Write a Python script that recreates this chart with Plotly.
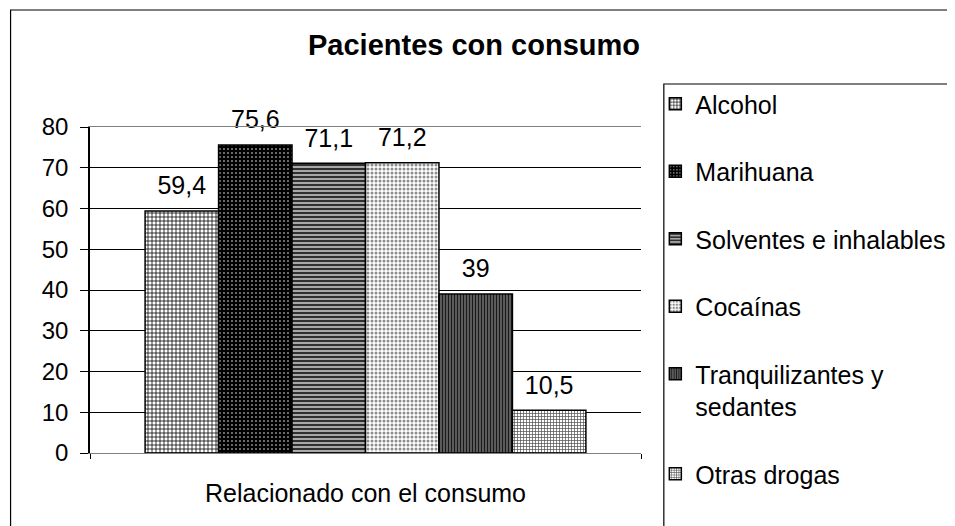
import plotly.graph_objects as go

category = ["Relacionado con el consumo"]
series_names = ["Alcohol", "Marihuana", "Solventes e inhalables", "Cocaínas",
                "Tranquilizantes y<br>sedantes", "Otras drogas"]
series_values = [59.4, 75.6, 71.1, 71.2, 39, 10.5]
y_ticks = [0, 10, 20, 30, 40, 50, 60, 70, 80]

# pattern per series: (shape, fg, bg, size, solidity)
patterns = [
    ("+", "#000000", "#ffffff", 4, 0.35),
    (".", "#ffffff", "#000000", 4, 0.12),
    ("-", "#303030", "#a8a8a8", 4, 0.5),
    (".", "#8c8c8c", "#ffffff", 4, 0.45),
    ("|", "#1a1a1a", "#707070", 3, 0.5),
    ("+", "#4a4a4a", "#ffffff", 3, 0.4),
]

FONT = "Arial, Liberation Sans, sans-serif"

fig = go.Figure()
for name, val, (shape, fg, bg, size, sol) in zip(series_names, series_values, patterns):
    label = str(val).replace(".", ",")
    fig.add_trace(go.Bar(
        x=category, y=[val], name=name, legendgroup=name,
        # small second line lifts the label a little above the bar, like Excel
        text=["<span style='font-size:25px'>" + label + "</span><br> "],
        textposition="outside", cliponaxis=False, constraintext="none",
        textfont=dict(size=9, color="black", family=FONT),
        marker=dict(color=bg, line=dict(color="black", width=1.5),
                    pattern=dict(shape=shape, fgcolor=fg, bgcolor=bg,
                                 size=size, solidity=sol, fillmode="replace")),
    ))

# the page has an 8px body margin, so the figure is shifted back by 8px
fig.update_layout(
    width=955, height=526,
    margin=dict(l=82, r=318, t=119, b=81),
    paper_bgcolor="white", plot_bgcolor="white",
    font=dict(family=FONT, color="black", size=24),
    barmode="group", bargap=0.2, bargroupgap=0,
    showlegend=True,
    legend=dict(x=1.026, y=1.141, xanchor="left", yanchor="top",
                font=dict(size=25, family=FONT), tracegroupgap=32,
                valign="top", bgcolor="rgba(0,0,0,0)", maxheight=1.0),
    xaxis=dict(showline=True, linecolor="#808080", linewidth=1, mirror=True,
               ticks="outside", tickson="boundaries", ticklen=5, tickcolor="black",
               tickfont=dict(size=25), ticklabelstandoff=18),
    yaxis=dict(range=[0, 80], tickvals=y_ticks, showgrid=True, gridcolor="#000000",
               gridwidth=1, showline=True, linecolor="black", linewidth=1.5,
               ticks="outside", ticklen=8, tickcolor="black",
               tickfont=dict(size=24), ticklabelstandoff=7, zeroline=False),
)

# title
fig.add_annotation(text="<b>Pacientes con consumo</b>", xref="paper", yref="paper",
                   x=(477 - 90) / 555, y=(453 - 45) / 326, showarrow=False,
                   xanchor="center", yanchor="middle",
                   font=dict(size=29, family=FONT, color="black"))

# outer chart border and legend box
fig.add_shape(type="rect", xref="paper", yref="paper",
              x0=(10 - 90) / 555, x1=(965 - 90) / 555,
              y0=(453 - 535) / 326, y1=(453 - 10) / 326,
              line=dict(color="black", width=1.2), layer="below")
fig.add_shape(type="rect", xref="paper", yref="paper",
              x0=(668 - 90) / 555, x1=(965 - 90) / 555,
              y0=(453 - 535) / 326, y1=(453 - 84) / 326,
              line=dict(color="black", width=1.2), layer="below")

fig.write_html("out.html")
